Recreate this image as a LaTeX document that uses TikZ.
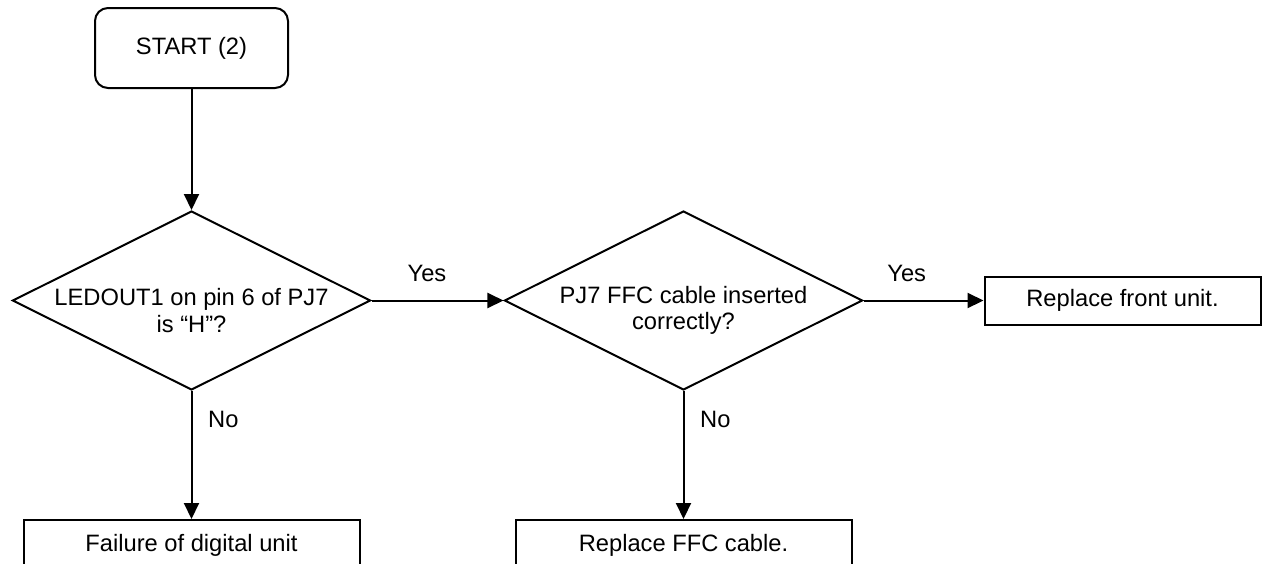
\documentclass[tikz,border=0pt]{standalone}
\usepackage{fontspec}
\setmainfont{Liberation Sans}
\usetikzlibrary{positioning, arrows.meta, shapes.geometric}

\newcommand{\flowfont}{\fontsize{11.85pt}{13.3pt}\selectfont}
\newcommand{\topgap}{\rule{0pt}{18.5pt}}

\begin{document}
\begin{tikzpicture}[
    x=1pt, y=1pt,
    term/.style={draw, rounded corners=6.5pt, line width=1pt, align=center, minimum width=96.5pt, minimum height=40pt, font=\flowfont},
    dec/.style={draw, diamond, aspect=2, line width=1pt, align=center, inner xsep=-14pt, inner ysep=-2pt, minimum width=179pt, minimum height=89.5pt, font=\flowfont},
    proc/.style={draw, line width=1pt, align=center, minimum width=168pt, minimum height=25pt, font=\flowfont},
    arr/.style={-{Triangle[length=8pt, width=7.5pt]}, line width=1pt},
    lbl/.style={font=\flowfont}
]
\path[use as bounding box, clip] (0,0) rectangle (631,-281.5);
\node[term] (start) at (95.75,-24) {START (2)};
\node[dec, below=60.5pt of start] (ledout) {\topgap LEDOUT1 on pin 6 of PJ7\\is “H”?};
\node[dec, right=66pt of ledout] (ffc) {\topgap PJ7 FFC cable inserted\\correctly?};
\node[proc, right=60pt of ffc, minimum width=138pt, minimum height=24pt] (front) {Replace front unit.};
\node[proc, below=64pt of ledout] (digital) {Failure of digital unit};
\node[proc, below=64pt of ffc] (cable) {Replace FFC cable.};
\draw[arr] (start) -- (ledout);
\draw[arr] (ledout) -- node[lbl, pos=0.42, above=5.5pt] {Yes} (ffc);
\draw[arr] (ffc) -- node[lbl, pos=0.36, above=5.5pt] {Yes} (front);
\draw[arr] (ledout) -- node[lbl, pos=0.22, right=4.5pt] {No} (digital);
\draw[arr] (ffc) -- node[lbl, pos=0.22, right=4.5pt] {No} (cable);
\end{tikzpicture}
\end{document}
